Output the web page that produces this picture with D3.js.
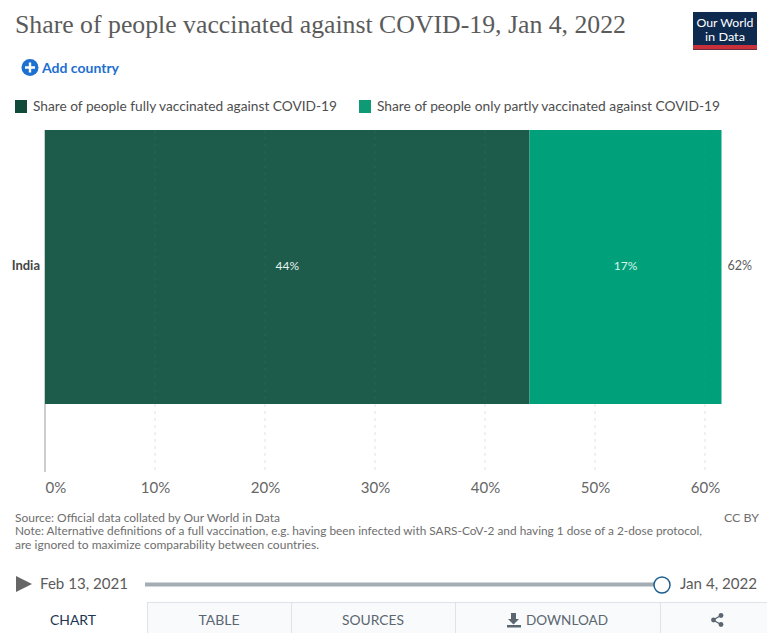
<!DOCTYPE html>
<html>
<head>
<meta charset="utf-8">
<script src="https://cdn.jsdelivr.net/npm/d3@7"></script>
<style>
html,body{margin:0;padding:0;background:#fff;}
svg{display:block;font-family:Lato,"Noto Sans",sans-serif;}
</style>
</head>
<body>
<svg id="chart" width="767" height="633"></svg>
<script>
const countries = ["India"];
const seriesNames = ["Share of people fully vaccinated against COVID-19", "Share of people only partly vaccinated against COVID-19"];
const seriesColors = ["#1d5c4b", "#00a07a"];
const legendSwatches = ["#0f4a3a", "#0e9a74"];
const fullyVaccinated = [44.05];
const partlyVaccinated = [17.45];
const xTicks = [0, 10, 20, 30, 40, 50, 60];
const tabs = ["CHART", "TABLE", "SOURCES", "DOWNLOAD"];
const timeline = ["Feb 13, 2021", "Jan 4, 2022"];
const footerLines = [
  "Source: Official data collated by Our World in Data",
  "Note: Alternative definitions of a full vaccination, e.g. having been infected with SARS-CoV-2 and having 1 dose of a 2-dose protocol,",
  "are ignored to maximize comparability between countries."
];

const svg = d3.select("#chart");
const pct = v => d3.format(".0f")(v) + "%";

function txt(x, y, s, size, fill, opts = {}) {
  const t = svg.append("text").attr("x", x).attr("y", y).text(s)
    .attr("font-size", size).attr("fill", fill)
    .attr("text-anchor", opts.anchor || "start");
  if (opts.family) t.attr("font-family", opts.family);
  if (opts.weight) t.attr("font-weight", opts.weight);
  if (opts.len) t.attr("textLength", opts.len).attr("lengthAdjust", "spacingAndGlyphs");
  return t;
}

// Header
txt(15, 33, "Share of people vaccinated against COVID-19, Jan 4, 2022", 25, "#5b5b5b",
  {family: "'Liberation Serif',serif", len: 611});

// Logo
svg.append("rect").attr("x", 693).attr("y", 12).attr("width", 64).attr("height", 38).attr("fill", "#0e2a4f");
svg.append("rect").attr("x", 693).attr("y", 45).attr("width", 64).attr("height", 4.5).attr("fill", "#c8303a");
txt(725, 26.5, "Our World", 12, "#fff", {anchor: "middle", len: 57});
txt(725, 41, "in Data", 12, "#fff", {anchor: "middle", len: 40});

// Add country control
svg.append("circle").attr("cx", 30).attr("cy", 67.5).attr("r", 8.5).attr("fill", "#1d6fd0");
svg.append("path").attr("d", "M25 67.5H35M30 62.5V72.5").attr("stroke", "#fff").attr("stroke-width", 2.4);
txt(42, 73, "Add country", 14, "#1d6fd0", {weight: 700, len: 77});

// Legend
const legendX = [15, 359];
const legendLen = [304, 343];
seriesNames.forEach((name, i) => {
  svg.append("rect").attr("x", legendX[i]).attr("y", 100).attr("width", 12).attr("height", 13).attr("fill", legendSwatches[i]);
  txt(legendX[i] + 18, 111, name, 13.5, "#4e4e4e", {len: legendLen[i]});
});

// Scales
const x = d3.scaleLinear().domain([0, 60]).range([45, 705]);
const y = d3.scaleBand().domain(countries).range([130, 404]).padding(0);
const plotBottom = 472;

// Tick labels
const xAxis = d3.axisBottom(x).tickValues(xTicks).tickFormat(pct).tickSize(0).tickPadding(0);
const axisG = svg.append("g").attr("transform", `translate(0,${plotBottom + 6})`).call(xAxis);
axisG.select(".domain").remove();
axisG.selectAll("text").attr("font-size", 15).attr("fill", "#666").attr("font-family", "Lato,sans-serif")
  .attr("dy", "0").attr("y", 15).attr("text-anchor", d => d === 0 ? "start" : "middle");

// Stacked bars
countries.forEach((c, i) => {
  const f = fullyVaccinated[i], p = partlyVaccinated[i], total = f + p;
  svg.append("rect").attr("x", x(0)).attr("y", y(c)).attr("width", x(f) - x(0)).attr("height", y.bandwidth()).attr("fill", seriesColors[0]);
  svg.append("rect").attr("x", x(f)).attr("y", y(c)).attr("width", x(total) - x(f)).attr("height", y.bandwidth()).attr("fill", seriesColors[1]);
  const cy = y(c) + y.bandwidth() / 2 + 3;
  txt((x(0) + x(f)) / 2, cy, pct(f), 12, "#e6f2ee", {anchor: "middle"});
  txt((x(f) + x(total)) / 2, cy, pct(p), 12, "#d9f5ea", {anchor: "middle"});
  txt(x(total) + 6, cy, pct(total), 12.5, "#5b5b5b");
  txt(40, cy, c, 13, "#444", {anchor: "end", weight: 700});
});

// Dashed gridlines: faint across the bars, clearer below them
svg.append("g").selectAll("line").data(xTicks.slice(1)).join("line")
  .attr("x1", d => x(d)).attr("x2", d => x(d)).attr("y1", 130).attr("y2", 404)
  .attr("stroke", "#ddd").attr("stroke-dasharray", "3,4")
  .attr("stroke-opacity", 0.06);
svg.append("g").selectAll("line").data(xTicks.slice(1)).join("line")
  .attr("x1", d => x(d)).attr("x2", d => x(d)).attr("y1", 404).attr("y2", plotBottom)
  .attr("stroke", "#e2e2e2").attr("stroke-dasharray", "3,4");
svg.append("line").attr("x1", x(0) - 0.5).attr("x2", x(0) - 0.5).attr("y1", 130).attr("y2", 404)
  .attr("stroke", "#c4cfcb").attr("stroke-width", 1);
svg.append("line").attr("x1", x(0)).attr("x2", x(0)).attr("y1", 404).attr("y2", plotBottom)
  .attr("stroke", "#aaa").attr("stroke-width", 1.2);

// Footer
const footerY = [522, 535, 549];
const footerLen = [265, 687, 304];
footerLines.forEach((l, i) => txt(15, footerY[i], l, 11.5, "#6e6e6e", {len: footerLen[i]}));
txt(724, 522, "CC BY", 11.5, "#6e6e6e", {len: 35});

// Timeline
svg.append("path").attr("d", "M16 576L32 584L16 592Z").attr("fill", "#666");
txt(40, 589, timeline[0], 15, "#5b5b5b", {len: 88});
const timeX = d3.scaleLinear().domain([0, 1]).range([145, 662]);
svg.append("line").attr("x1", timeX(0)).attr("x2", timeX(1)).attr("y1", 584.5).attr("y2", 584.5)
  .attr("stroke", "#a3adb3").attr("stroke-width", 4);
svg.append("circle").attr("cx", timeX(1)).attr("cy", 585).attr("r", 8).attr("fill", "#fff").attr("stroke", "#1d5f8f").attr("stroke-width", 1.5);
txt(680, 589, timeline[1], 15, "#5b5b5b", {len: 77});

// Tabs
const tabEdges = [147, 291, 455, 660, 767];
svg.append("line").attr("x1", 147).attr("x2", 767).attr("y1", 602.5).attr("y2", 602.5).attr("stroke", "#dde3e8");
svg.append("rect").attr("x", 147).attr("y", 603).attr("width", 620).attr("height", 30).attr("fill", "#f8fafc");
tabEdges.slice(0, 4).forEach(e => {
  svg.append("line").attr("x1", e + 0.5).attr("x2", e + 0.5).attr("y1", 602).attr("y2", 633).attr("stroke", "#dde3e8");
});
txt(73, 625, tabs[0], 14, "#1e3550", {anchor: "middle", len: 46});
txt(219, 625, tabs[1], 14, "#5b6670", {anchor: "middle", len: 41});
txt(373, 625, tabs[2], 14, "#5b6670", {anchor: "middle", len: 62});
txt(526, 625, tabs[3], 14, "#5b6670", {len: 82});

// Download glyph
svg.append("path").attr("d", "M511 613H516V619H519L513.5 624.5L508 619H511ZM507 625H521V627.5H507Z").attr("fill", "#5b6670");
// Share glyph
svg.append("path").attr("d", "M721 615.5L713 620L721 624.5").attr("stroke", "#5b6670").attr("stroke-width", 1.4).attr("fill", "none");
[[721, 615.5], [713.5, 620], [721, 624.5]].forEach(p => {
  svg.append("circle").attr("cx", p[0]).attr("cy", p[1]).attr("r", 2.4).attr("fill", "#5b6670");
});
</script>
</body>
</html>
